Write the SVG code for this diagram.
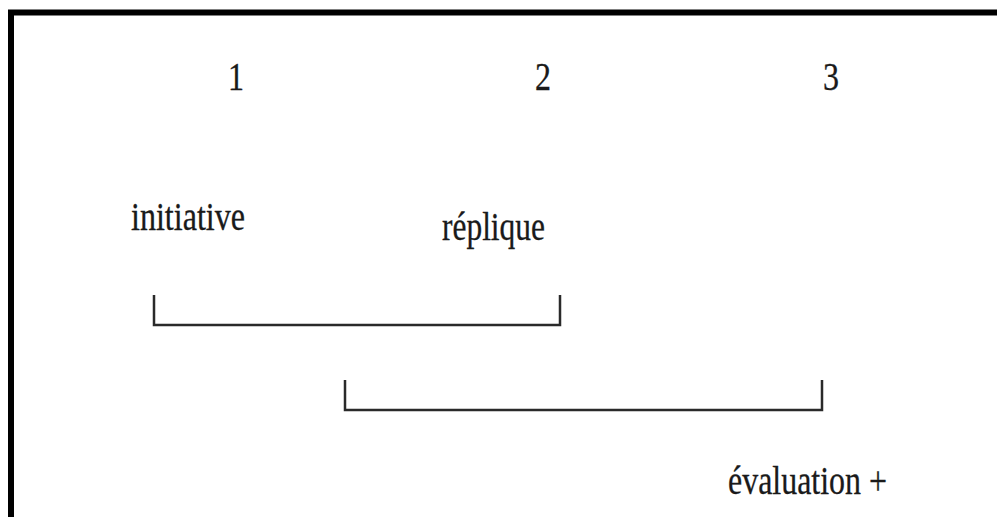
<svg xmlns="http://www.w3.org/2000/svg" width="997" height="517" viewBox="0 0 997 517">
<style>
.t{font-family:"Liberation Serif","Times New Roman",serif;font-size:39px;fill:#1a1a1a;stroke:#1a1a1a;stroke-width:0.3}
.b{fill:none;stroke:#2a2a2a;stroke-width:2.5}
</style>
<rect x="0" y="0" width="997" height="517" fill="#fff"/>
<rect x="11" y="12.5" width="1000" height="520" fill="none" stroke="#000" stroke-width="6"/>
<g id="n1"><text class="t" x="236" y="90" text-anchor="middle" textLength="16" lengthAdjust="spacingAndGlyphs">1</text></g>
<g id="n2"><text class="t" x="543" y="90" text-anchor="middle" textLength="16" lengthAdjust="spacingAndGlyphs">2</text></g>
<g id="n3"><text class="t" x="831" y="90" text-anchor="middle" textLength="16" lengthAdjust="spacingAndGlyphs">3</text></g>
<g id="initiative"><text class="t" x="131" y="230" textLength="114" lengthAdjust="spacingAndGlyphs">initiative</text></g>
<g id="replique"><text class="t" x="442" y="240" textLength="103" lengthAdjust="spacingAndGlyphs">réplique</text></g>
<g id="evaluation"><text class="t" x="728" y="494" textLength="159" lengthAdjust="spacingAndGlyphs">évaluation +</text></g>
<g id="connectors">
<path class="b" d="M154 295V325H560V295"/>
<path class="b" d="M345 380V410H822V380"/>
</g>
</svg>
